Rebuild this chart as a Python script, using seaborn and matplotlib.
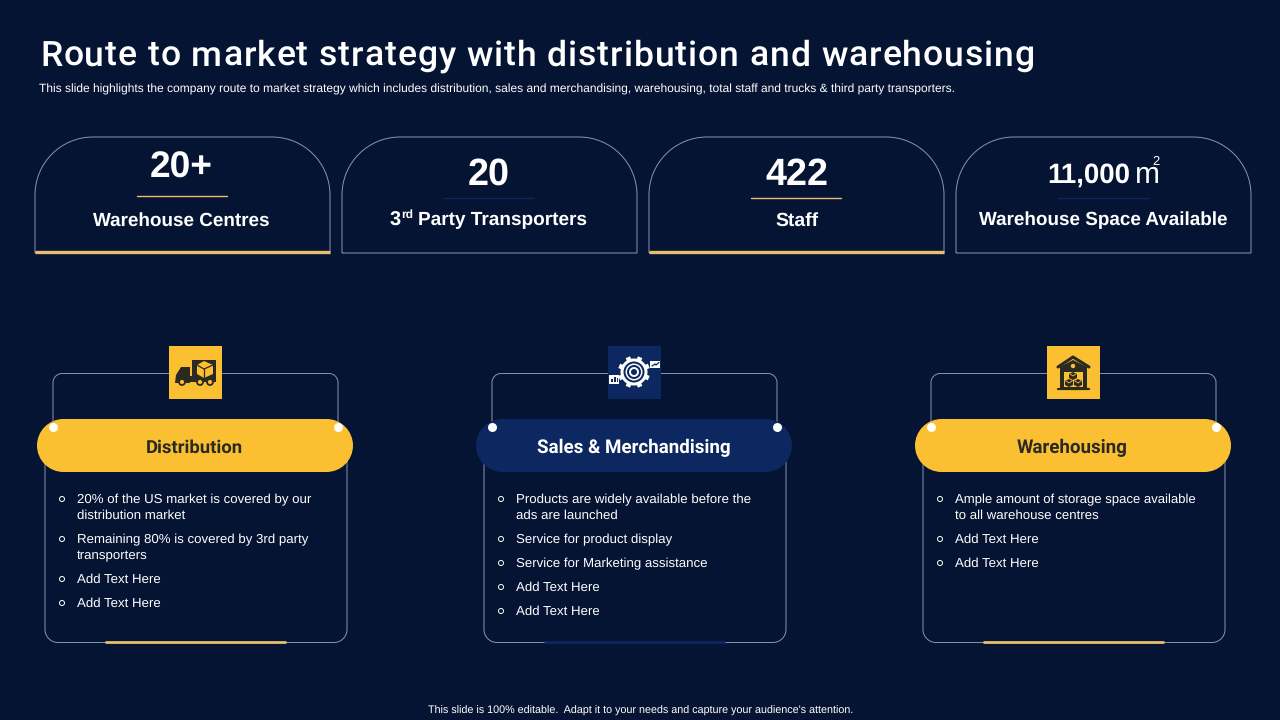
import numpy as np
import pandas as pd
import matplotlib
matplotlib.use("Agg")
import matplotlib.pyplot as plt
import seaborn as sns
from matplotlib.patches import Circle, PathPatch, Polygon, Rectangle
from matplotlib.path import Path

# --------------------------------------------------
# CONTENT
# --------------------------------------------------

TITLE = "Route to market strategy with distribution and warehousing"
SUBTITLE = ("This slide highlights the company route to market strategy which includes distribution, "
            "sales and merchandising, warehousing, total staff and trucks & third party transporters.")
FOOTER = "This slide is 100% editable.  Adapt it to your needs and capture your audience's attention."

card_values = ["20+", "20", "422", "11,000"]
card_labels = ["Warehouse Centres", "Party Transporters", "Staff", "Warehouse Space Available"]

panel_titles = ["Distribution", "Sales & Merchandising", "Warehousing"]
panel_items = [
    [["20% of the US market is covered by our", "distribution market"],
     ["Remaining 80% is covered by 3rd party", "transporters"],
     ["Add Text Here"],
     ["Add Text Here"]],
    [["Products are widely available before the", "ads are launched"],
     ["Service for product display"],
     ["Service for Marketing assistance"],
     ["Add Text Here"],
     ["Add Text Here"]],
    [["Ample amount of storage space available", "to all warehouse centres"],
     ["Add Text Here"],
     ["Add Text Here"]],
]

# --------------------------------------------------
# STYLE
# --------------------------------------------------

BG = "#061433"
YELLOW = "#FBBF32"
SOFT_YELLOW = "#E6BE6E"
NAVY = "#0D2860"
EDGE = "#8496B4"
DARK = "#2A2A22"
WHITE = "#FFFFFF"

HEAD_FONT = "Roboto"
BODY_FONT = "Liberation Sans"

sns.set_theme(style="white")
plt.rcParams["font.family"] = [BODY_FONT, "DejaVu Sans"]
plt.rcParams["text.hinting"] = "no_hinting"

fig, ax = plt.subplots(figsize=(12.8, 7.2), dpi=100, facecolor=BG)
ax.set_position([0, 0, 1, 1])
ax.set_facecolor(BG)
ax.set_xlim(0, 1280)
ax.set_ylim(720, 0)
ax.axis("off")
renderer = fig.canvas.get_renderer()


def ink_width(s, **font):
    t = ax.text(0, 0, s, **font)
    width = t.get_window_extent(renderer).width
    t.remove()
    return width


def scaled_text(s, x0, x1, y, **font):
    """Draw s on baseline y, font size adjusted so it runs from x0 to x1"""
    font["fontsize"] = font["fontsize"] * (x1 - x0) / ink_width(s, **font)
    ax.text(x0, y, s, va="baseline", ha="left", **font)


def spaced_text(s, x0, x1, y, **font):
    """Draw s on baseline y letter by letter, with the gaps widened to reach x1"""
    bar = ink_width("|", **font)
    extra = (x1 - x0 - ink_width(s, **font)) / max(len(s) - 1, 1)
    for i, c in enumerate(s):
        if c == " ":
            continue
        offset = ink_width(s[:i] + "|", **font) - bar if i else 0
        ax.text(x0 + offset + i * extra, y, c, va="baseline", ha="left", **font)


def px_font(px, family=BODY_FONT, weight="normal", color=WHITE):
    return dict(fontsize=px * 0.72, family=family, fontweight=weight, color=color)


def arch_path(x0, x1, y0, y1, r_top, r_bottom=0):
    """Rounded outline, corners drawn as proper quarter circles"""
    k = 0.5523
    a, b = r_top, r_bottom
    verts = [(x0, y1 - b), (x0, y0 + a), (x0, y0 + a - k * a), (x0 + a - k * a, y0), (x0 + a, y0),
             (x1 - a, y0), (x1 - a + k * a, y0), (x1, y0 + a - k * a), (x1, y0 + a),
             (x1, y1 - b), (x1, y1 - b + k * b), (x1 - b + k * b, y1), (x1 - b, y1),
             (x0 + b, y1), (x0 + b - k * b, y1), (x0, y1 - b + k * b), (x0, y1 - b)]
    codes = [Path.MOVETO, Path.LINETO, Path.CURVE4, Path.CURVE4, Path.CURVE4,
             Path.LINETO, Path.CURVE4, Path.CURVE4, Path.CURVE4,
             Path.LINETO, Path.CURVE4, Path.CURVE4, Path.CURVE4,
             Path.LINETO, Path.CURVE4, Path.CURVE4, Path.CURVE4]
    return Path(verts, codes)


def rounded(x0, x1, y0, y1, r, **kw):
    return ax.add_patch(PathPatch(arch_path(x0, x1, y0, y1, r, r), **kw))


# --------------------------------------------------
# HEADER
# --------------------------------------------------

spaced_text(TITLE, 40, 1035, 66, **px_font(35.5, HEAD_FONT, "medium"))
scaled_text(SUBTITLE, 39, 960, 92.5, **px_font(13))
scaled_text(FOOTER, 428, 853, 714, **px_font(12))

# --------------------------------------------------
# TOP CARDS
# --------------------------------------------------

card_left = [35, 342, 649, 956]
card_width = 295
value_span = [(150, 213), (468, 510), (765, 828), (1047, 1130)]
value_base = [178, 185, 185, 183]
label_span = [(93, 270), (418, 587), (775, 818), (979, 1228)]
rule_y = [196, 198, 198, 198]
accent = [True, False, True, False]

for i, left in enumerate(card_left):
    right = left + card_width
    ax.add_patch(PathPatch(arch_path(left, right, 137, 253, 58), fc="none", ec=EDGE, lw=0.7))
    ax.plot([left + 102, left + 192], [rule_y[i]] * 2,
            color=SOFT_YELLOW if accent[i] else NAVY, lw=1)
    if accent[i]:
        ax.plot([left, right], [252, 252], color=SOFT_YELLOW, lw=2.4, solid_capstyle="butt")
    scaled_text(card_values[i], value_span[i][0], value_span[i][1], value_base[i],
                **px_font(37.5, BODY_FONT, "bold"))
    scaled_text(card_labels[i], label_span[i][0], label_span[i][1], 225.5,
                **px_font(20, BODY_FONT, "bold"))

# pieces of text that sit beside the main labels
ax.text(390, 225.5, "3", va="baseline", ha="left", **px_font(20, BODY_FONT, "bold"))
ax.text(401, 218, "rd", va="baseline", ha="left", **px_font(12, BODY_FONT, "bold"))
ax.text(1135, 183, "m", va="baseline", ha="left", **px_font(30, BODY_FONT))
ax.text(1152, 165, "2", va="baseline", ha="left", **px_font(13, BODY_FONT))

# --------------------------------------------------
# LOWER PANELS
# --------------------------------------------------

panel_shift = [0, 439, 878]
pill_color = [YELLOW, NAVY, YELLOW]
pill_text = [DARK, WHITE, DARK]
accent_color = [SOFT_YELLOW, NAVY, SOFT_YELLOW]
title_span = [(146, 243), (537, 731), (1017, 1128)]
long_line_end = {(0, 0, 0): 311, (0, 1, 0): 308, (1, 0, 0): 751, (2, 0, 0): 1195}

bullets = []
dots = []
for p, shift in enumerate(panel_shift):
    # text box under the pill
    rounded(45 + shift, 347 + shift, 440, 642.5, 13, fc="none", ec=EDGE, lw=0.7, zorder=1)
    ax.plot([105 + shift, 286 + shift], [642, 642], color=accent_color[p], lw=2,
            solid_capstyle="butt", zorder=2)

    # connector behind icon and pill
    rounded(53 + shift, 338 + shift, 373.5, 460, 9, fc="none", ec=EDGE, lw=0.7, zorder=1)
    ax.add_patch(Rectangle((169 + shift, 346), 53, 53, fc=pill_color[p], ec="none", zorder=3))

    # pill
    rounded(37 + shift, 353 + shift, 419, 472, 26.5, fc=pill_color[p], ec="none", zorder=3)
    scaled_text(panel_titles[p], title_span[p][0], title_span[p][1], 453,
                **px_font(18.5, HEAD_FONT, "bold", pill_text[p]), zorder=5)
    dots += [(53 + shift, 427), (338 + shift, 427)]

    # bullet items
    y = 503
    for n, item in enumerate(panel_items[p]):
        bullets.append((62 + shift, y - 4))
        for m, line in enumerate(item):
            x0 = 77 + shift
            if (p, n, m) in long_line_end:
                scaled_text(line, x0, long_line_end[(p, n, m)], y, **px_font(13.4))
            else:
                ax.text(x0, y, line, va="baseline", ha="left", **px_font(13.3))
            y += 16
        y += 8

bullet_df = pd.DataFrame(bullets, columns=["x", "y"])
dot_df = pd.DataFrame(dots, columns=["x", "y"])
sns.scatterplot(data=bullet_df, x="x", y="y", ax=ax, s=13, facecolor="none", edgecolor=WHITE,
                linewidth=0.7, legend=False, zorder=4)
sns.scatterplot(data=dot_df, x="x", y="y", ax=ax, s=42, color=WHITE, linewidth=0, legend=False, zorder=6)

# --------------------------------------------------
# ICONS
# --------------------------------------------------

# truck
ax.add_patch(Rectangle((192, 360), 24, 18, fc=DARK, ec="none", zorder=4))
ax.add_patch(Rectangle((189, 376), 27, 6, fc=DARK, ec="none", zorder=4))
ax.add_patch(Polygon([(175, 383), (176, 375), (181, 367), (190, 367), (190, 383)], fc=DARK, ec="none", zorder=4))
ax.add_patch(Polygon([(204, 361), (213, 365), (213, 374), (204, 378), (197, 374), (197, 365)], fc=YELLOW, ec="none", zorder=5))
ax.plot([197, 204, 213], [365, 369, 365], color=DARK, lw=0.9, zorder=6)
ax.plot([204, 204], [369, 378], color=DARK, lw=0.9, zorder=6)
for wx in [182, 200, 210]:
    ax.add_patch(Circle((wx, 382), 3, fc=YELLOW, ec=DARK, lw=1.3, zorder=6))

# gear
cx, cy = 634, 372
teeth = np.linspace(0, 2 * np.pi, 8, endpoint=False) + np.pi / 8
for a in teeth:
    ax.plot([cx, cx + 16 * np.cos(a)], [cy, cy + 16 * np.sin(a)], color=WHITE, lw=3.4,
            solid_capstyle="butt", zorder=4)
ax.add_patch(Circle((cx, cy), 13.5, fc=WHITE, ec="none", zorder=4))
ax.add_patch(Circle((cx, cy), 10.5, fc=NAVY, ec="none", zorder=5))
ax.add_patch(Circle((cx, cy), 8.5, fc=WHITE, ec="none", zorder=5))
ax.add_patch(Circle((cx, cy), 7, fc=NAVY, ec="none", zorder=5))
ax.add_patch(Circle((cx, cy), 4, fc=NAVY, ec=WHITE, lw=1.4, zorder=5))
ax.add_patch(Rectangle((609, 375), 10, 9, fc=WHITE, ec="none", zorder=5))
ax.add_patch(Rectangle((650, 361), 10, 7, fc=WHITE, ec="none", zorder=5))
for bx, bh in zip([611, 614, 616.5], [3, 5, 4]):
    ax.add_patch(Rectangle((bx, 382 - bh), 1.5, bh, fc=NAVY, ec="none", zorder=6))
ax.plot([652, 655, 656, 659], [366, 364, 365, 362.5], color=NAVY, lw=0.9, zorder=6)

# warehouse
ax.plot([1058, 1073, 1089], [367, 357, 367], color=DARK, lw=2.2, zorder=5)
ax.add_patch(Polygon([(1060, 367), (1073, 360), (1087, 367), (1087, 389), (1060, 389)], fc=DARK, ec="none", zorder=4))
ax.add_patch(Rectangle((1064, 372), 19, 15, fc=YELLOW, ec="none", zorder=5))
ax.add_patch(Circle((1073, 366), 2.2, fc=YELLOW, ec="none", zorder=5))
ax.plot([1058, 1089], [389, 389], color=DARK, lw=1.6, zorder=5)
for bx, by in [(1073, 376), (1069, 383), (1078, 383)]:
    ax.add_patch(Polygon([(bx, by - 4), (bx + 4, by - 2), (bx + 4, by + 2), (bx, by + 4),
                          (bx - 4, by + 2), (bx - 4, by - 2)], fc=DARK, ec="none", zorder=6))
    ax.plot([bx - 3, bx, bx + 3], [by - 2, by, by - 2], color=YELLOW, lw=0.6, zorder=7)

fig.savefig("out.png", dpi=100, facecolor=BG)
